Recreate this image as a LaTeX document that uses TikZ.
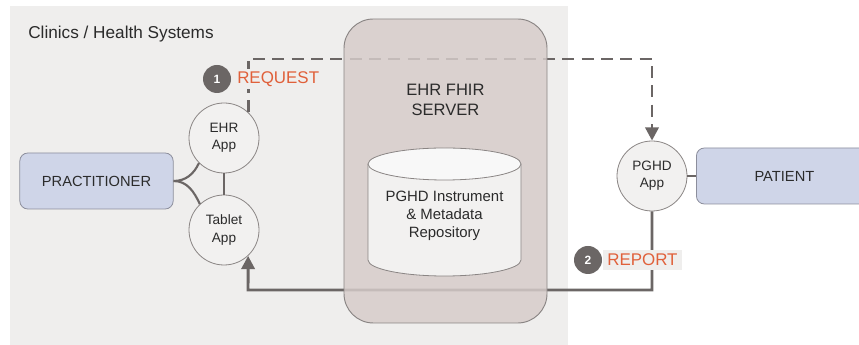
\documentclass[tikz,border=0pt]{standalone}
\usepackage{fontspec}
\setmainfont{Liberation Sans}
\usetikzlibrary{arrows.meta}
\definecolor{clinicbg}{HTML}{EFEEED}
\definecolor{serverfill}{HTML}{D6CCCA}
\definecolor{edgegray}{HTML}{8A8584}
\definecolor{linegray}{HTML}{6B6665}
\definecolor{actorfill}{HTML}{CFD5E8}
\definecolor{actoredge}{HTML}{8C8E9C}
\definecolor{appfill}{HTML}{F2F1F0}
\definecolor{orangetxt}{HTML}{E0603A}
\definecolor{txt}{HTML}{2B2B2B}
\tikzset{
  actor/.style={draw=actoredge, fill=actorfill, rounded corners=6pt, line width=0.6pt,
    font=\fontsize{11}{13}\selectfont, text=txt, inner sep=0pt},
  app/.style={circle, draw=edgegray, fill=appfill, line width=0.6pt, minimum size=52.5pt,
    inner sep=0pt, align=center, font=\fontsize{10.2}{13}\selectfont, text=txt},
  badge/.style={circle, fill=linegray, minimum size=21pt, inner sep=0pt,
    text=white, font=\fontsize{9}{10}\selectfont\bfseries},
  steplabel/.style={text=orangetxt, font=\fontsize{12.7}{14}\selectfont, inner sep=1.5pt, anchor=west},
  flow/.style={draw=linegray, line width=2.2pt},
  tip/.style={-{Triangle[length=10pt,width=10pt]}},
}
\begin{document}
\begin{tikzpicture}[x=0.75pt,y=0.75pt]
\useasboundingbox (0,0) rectangle (859,345);
\fill[white] (0,0) rectangle (859,345);
% clinics area
\fill[clinicbg] (10,0) rectangle (568,339);
\node[anchor=west, text=txt, font=\fontsize{12.9}{15}\selectfont, inner sep=0pt] (clin) at (28,311) {Clinics / Health Systems};

% nodes
\node[actor, minimum width=115pt, minimum height=42pt] (prac) at (96.5,164) {PRACTITIONER};
\node[app] (ehr) at (224,207) {EHR\\App};
\node[app] (tab) at (224,115) {Tablet\\App};
\node[app] (pghd) at (652,169) {PGHD\\App};
\node[actor, minimum width=132pt, minimum height=42pt, anchor=west] (pat) at (696,169) {PATIENT};

% connectors under the server
\coordinate (topc) at (652,286);
\coordinate (botc) at (248,55);
\draw[flow, dash pattern=on 9pt off 5.5pt, tip] (ehr.47) |- (topc) -- (pghd.north);
\draw[flow, tip] (pghd.south) |- (botc) -- (tab.-47);
\draw[flow] (ehr.south) -- (tab.north);
\draw[flow] (pghd.east) -- (pat.west);
\draw[draw=linegray, line width=1.6pt] (prac.east) to[out=0, in=245] (ehr.225);
\draw[draw=linegray, line width=1.6pt] (prac.east) to[out=0, in=115] (tab.133);

% server
\draw[draw=edgegray, fill=serverfill, fill opacity=0.84, line width=0.7pt, rounded corners=22pt]
  (344,22) rectangle (547,326);
\node[align=center, text=txt, font=\fontsize{12.4}{15}\selectfont] (srv) at (445.5,245) {EHR FHIR\\SERVER};

% repository cylinder
\draw[draw=edgegray, fill=appfill, line width=0.6pt]
  (368,181) -- (368,85) arc[start angle=180, end angle=360, x radius=76.5, y radius=16] -- (521,181);
\draw[draw=edgegray, fill=white!50!appfill, line width=0.6pt] (444.5,181) ellipse[x radius=76.5, y radius=16];
\node[align=center, text=txt, font=\fontsize{11.2}{13.5}\selectfont] (repo) at (444.5,129)
  {PGHD Instrument\\\& Metadata\\Repository};

% step labels
\node[badge] (b1) at (217,266) {1};
\node[steplabel, fill=clinicbg] (req) at (235,266) {REQUEST};
\node[steplabel, fill=clinicbg, inner xsep=3pt, minimum height=15pt] (rep) at (603,85) {REPORT};
\node[badge] (b2) at (588,85) {2};
\end{tikzpicture}
\end{document}
